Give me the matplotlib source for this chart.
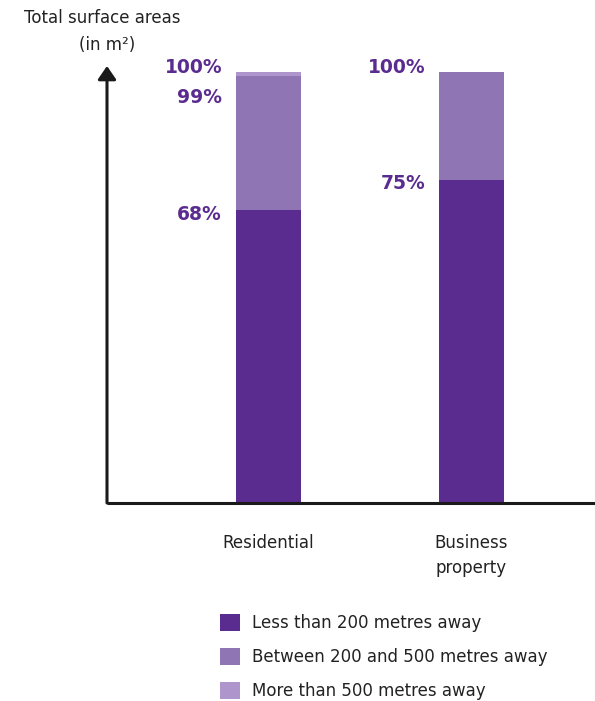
import matplotlib
matplotlib.use('Agg')
import matplotlib.pyplot as plt
import numpy as np

plt.rcParams['font.family'] = 'DejaVu Sans'

categories = ['Residential', 'Business\nproperty']
series_names = ['Less than 200 metres away',
                'Between 200 and 500 metres away',
                'More than 500 metres away']
# shares (%) per category
near = [68, 75]
mid = [31, 25]
far = [1, 0]
labels_res = ['68%', '99%', '100%']
labels_bus = ['75%', '100%']

colors = ['#5b2c8f', '#9075b4', '#ae96cc']
label_color = '#5b2c8f'
text_color = '#222222'

W, H = 595, 701
fig = plt.figure(figsize=(W / 100, H / 100), dpi=100)

# axes in pixel layout: x from 107 to 595, y from 503 (bottom) to 66 (arrow tip)
ax = fig.add_axes([107 / W, 1 - 503 / H, (W - 107) / W, (503 - 66) / H])
ax.set_ylim(0, 437 / 431 * 100)
ax.set_xlim(-161.5 / 203, -161.5 / 203 + 488 / 203)
for s in ax.spines.values():
    s.set_visible(False)
ax.set_xticks([])
ax.set_yticks([])

x = np.arange(len(categories))
bw = 65 / 203
b1 = ax.bar(x, near, bw, color=colors[0], label=series_names[0])
b2 = ax.bar(x, mid, bw, bottom=near, color=colors[1], label=series_names[1])
b3 = ax.bar(x, far, bw, bottom=np.array(near) + np.array(mid),
            color=colors[2], label=series_names[2])

# axes lines
ax.plot([0, 1], [0, 0], transform=ax.transAxes, color='#1a1a1a', lw=2.2,
        clip_on=False, solid_capstyle='butt')
ax.annotate('', xy=(0, 1.0), xytext=(0, 0), xycoords='axes fraction',
            arrowprops=dict(arrowstyle='-|>,head_length=0.8,head_width=0.55',
                            color='#1a1a1a', lw=2.2, shrinkA=0, shrinkB=0))

# value labels
cum_res = [near[0], near[0] + mid[0], near[0] + mid[0] + far[0]]
cum_bus = [near[1], near[1] + mid[1]]
for xi, vals, labs in [(0, cum_res, labels_res), (1, cum_bus, labels_bus)]:
    prev = None
    for v, lab in zip(vals[::-1], labs[::-1]):
        dy = 3
        if prev is not None and prev - v < 5:
            dy = -15
        elif v < 90:
            dy = -3
        ax.annotate(lab, xy=(xi - bw / 2, v), xytext=(-10, dy),
                    textcoords='offset points', ha='right', va='center',
                    fontsize=13.5, fontweight='bold', color=label_color)
        prev = v

# category labels
for xi, c in zip(x, categories):
    ax.annotate(c, xy=(xi, 0), xytext=(0, -22), textcoords='offset points',
                ha='center', va='top', fontsize=12, color=text_color,
                linespacing=1.55, annotation_clip=False)

fig.text(102 / W, 1 - 18 / H, 'Total surface areas', ha='center', va='center',
         fontsize=12, color=text_color)
fig.text(107 / W, 1 - 45 / H, '(in m²)', ha='center', va='center',
         fontsize=12, color=text_color)

fig.legend(handles=[b1, b2, b3], labels=series_names, loc='upper left',
           bbox_to_anchor=(212 / W, 1 - 606 / H), frameon=False,
           fontsize=12, handlelength=1.2, handleheight=1.2,
           handletextpad=0.7, labelspacing=0.95, borderpad=0,
           labelcolor=text_color)

fig.savefig('out.png', dpi=100)
